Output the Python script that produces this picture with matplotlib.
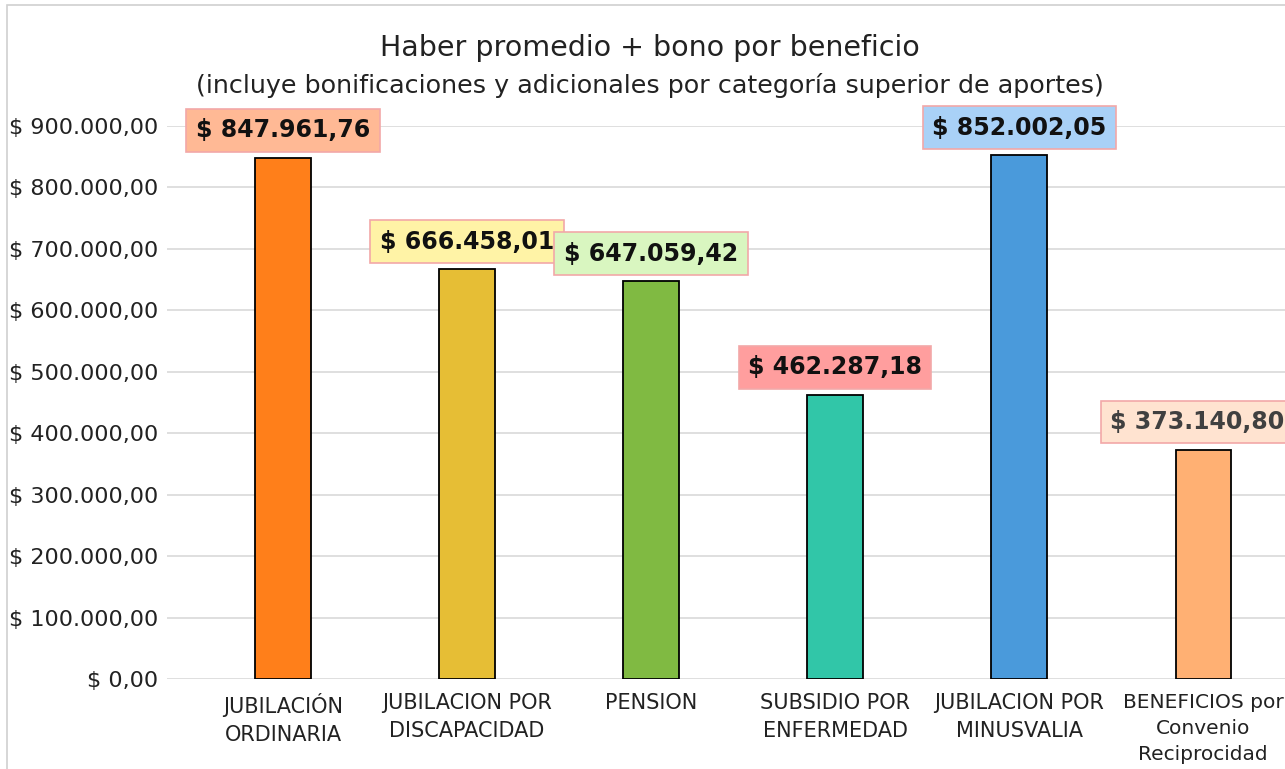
import matplotlib
matplotlib.use("Agg")
import matplotlib.pyplot as plt
from matplotlib.patches import Rectangle
from matplotlib.ticker import FuncFormatter

categories = ["JUBILACIÓN\nORDINARIA", "JUBILACION POR\nDISCAPACIDAD", "PENSION",
              "SUBSIDIO POR\nENFERMEDAD", "JUBILACION POR\nMINUSVALIA",
              "BENEFICIOS por\nConvenio\nReciprocidad"]
values = [847961.76, 666458.01, 647059.42, 462287.18, 852002.05, 373140.80]
labels = ["$ 847.961,76", "$ 666.458,01", "$ 647.059,42", "$ 462.287,18",
          "$ 852.002,05", "$ 373.140,80"]
bar_colors = ["#FF7F1A", "#E6BE35", "#80BA42", "#31C6A8", "#4A9ADB", "#FFB073"]
box_colors = ["#FFB995", "#FFF3A6", "#D9F6C0", "#FF9E9E", "#A9D1F7", "#FFE3D0"]
text_colors = ["#111111", "#111111", "#111111", "#111111", "#111111", "#404040"]

plt.rcParams['font.family'] = ['DejaVu Sans']

fig = plt.figure(figsize=(12.85, 7.69), dpi=100)
ax = fig.add_axes([167/1285, 1-679/769, 1-167/1285, (679-126)/769])

x = list(range(len(categories)))
ax.bar(x, values, width=0.30, color=bar_colors, edgecolor="black", linewidth=1.3, zorder=3)

ax.set_xlim(-0.63, 5.445)
ax.set_ylim(0, 900000)
ax.set_yticks([i*100000 for i in range(10)])

def fmt(v, pos):
    s = f"{v:,.2f}".replace(",", "X").replace(".", ",").replace("X", ".")
    return "$ " + s
ax.yaxis.set_major_formatter(FuncFormatter(fmt))
ax.tick_params(axis='y', length=0, labelsize=16, pad=6.5, colors="#222222")
ax.set_xticks(x)
ax.set_xticklabels(categories, fontsize=15, color="#222222", linespacing=1.48)
for i, t in enumerate(ax.get_xticklabels()):
    if i == 5:
        t.set_fontsize(14.5)
ax.tick_params(axis='x', length=0, pad=10)
ax.grid(axis='y', color="#D9D9D9", linewidth=1.2, zorder=0)
for s in ax.spines.values():
    s.set_visible(False)

for xi, v, lab, bc, tc in zip(x, values, labels, box_colors, text_colors):
    dx = -4 if xi == 5 else 0
    ax.annotate(lab, (xi, v), xytext=(dx, 20), textcoords="offset points",
                ha="center", va="center", fontsize=17, fontweight="bold", color=tc,
                bbox=dict(boxstyle="square,pad=0.4", facecolor=bc, edgecolor="#F2A8A8",
                          linewidth=1.2), zorder=5, annotation_clip=False)

fig.text(650/1285, 1-48/769, "Haber promedio + bono por beneficio", ha="center", va="center",
         fontsize=20.5, color="#222222")
fig.text(650/1285, 1-85/769,
         "(incluye bonificaciones y adicionales por categoría superior de aportes)",
         ha="center", va="center", fontsize=18.3, color="#222222")

fig.patches.append(Rectangle((7/1285, -0.1), 1.2, 1.1 - 5/769, transform=fig.transFigure,
                             fill=False, edgecolor="#D0D0D0", linewidth=1.2))

fig.savefig("out.png", dpi=100)
